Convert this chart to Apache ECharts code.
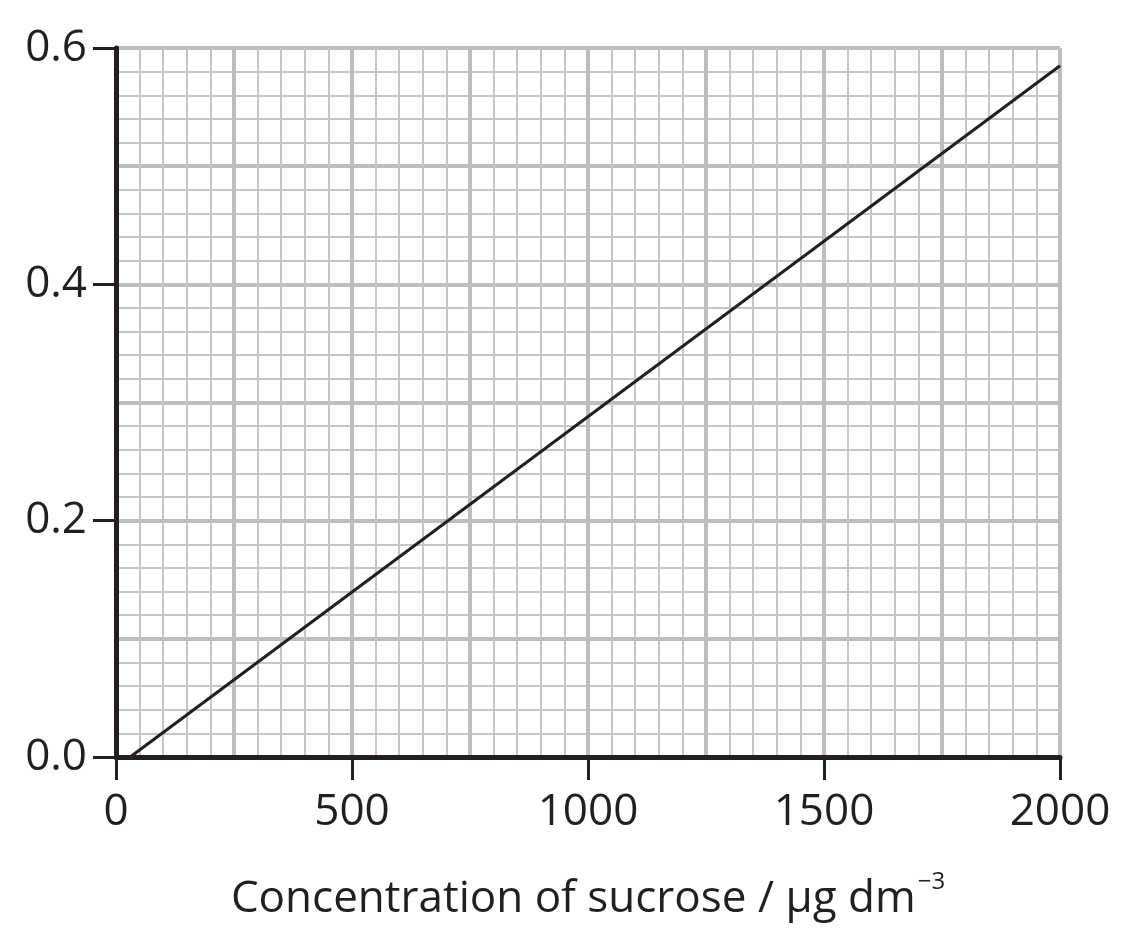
<!DOCTYPE html>
<html>
<head>
<meta charset="utf-8">
<script src="https://cdn.jsdelivr.net/npm/echarts@6/dist/echarts.min.js"></script>
<style>
  html, body { margin: 0; padding: 0; background: #fff; }
  #chart { width: 1131px; height: 938px; }
</style>
</head>
<body>
<div id="chart"></div>
<script>
// calibration line
var lineX = [30, 2000];
var lineY = [0, 0.585];
var xLabelTicks = [0, 500, 1000, 1500, 2000];
var yLabelTicks = [0.0, 0.2, 0.4, 0.6];
var xName = 'Concentration of sucrose / \u03bcg dm';
var xNameSup = '\u22123';

var chart = echarts.init(document.getElementById('chart'));
var ink = '#231f20';
var font = 'Open Sans';

var lineData = lineX.map(function (x, i) { return [x, lineY[i]]; });

var option = {
    animation: false,
    grid: { left: 116, right: 71, top: 48, bottom: 181 },
    xAxis: [
        {   // graph paper, vertical lines
            type: 'value', min: 0, max: 2000, interval: 250,
            axisLine: { show: false }, axisTick: { show: false }, axisLabel: { show: false },
            splitLine: { show: true, lineStyle: { color: '#bebebe', width: 4 } },
            minorTick: { show: false, splitNumber: 5 },
            minorSplitLine: { show: true, lineStyle: { color: '#c6c6c6', width: 2 } }
        },
        {   // labelled axis
            type: 'value', min: 0, max: 2000, interval: 500, z: 5,
            position: 'bottom',
            axisLine: { show: true, onZero: false, lineStyle: { color: ink, width: 5 } },
            axisTick: { show: true, length: 23, lineStyle: { color: ink, width: 3 } },
            axisLabel: { margin: 33, fontSize: 44, fontFamily: font, color: ink,
                formatter: function (v) { return xLabelTicks.indexOf(v) >= 0 ? String(v) : ''; } },
            splitLine: { show: false },
            name: '{a|' + xName + '}{s|' + xNameSup + '}',
            nameLocation: 'middle', nameGap: 113,
            nameTextStyle: {
                rich: {
                    a: { fontSize: 44, fontFamily: font, color: ink },
                    s: { fontSize: 24, fontFamily: font, color: ink, padding: [0, 0, 34, 2] }
                }
            }
        }
    ],
    yAxis: [
        {   // graph paper, horizontal lines
            type: 'value', min: 0, max: 0.6, interval: 0.1,
            axisLine: { show: false }, axisTick: { show: false }, axisLabel: { show: false },
            splitLine: { show: true, lineStyle: { color: '#bebebe', width: 4 } },
            minorTick: { show: false, splitNumber: 5 },
            minorSplitLine: { show: true, lineStyle: { color: '#c6c6c6', width: 2 } }
        },
        {
            type: 'value', min: 0, max: 0.6, interval: 0.2, z: 5,
            position: 'left',
            axisLine: { show: true, onZero: false, lineStyle: { color: ink, width: 5 } },
            axisTick: { show: true, length: 23, lineStyle: { color: ink, width: 3 } },
            axisLabel: { margin: 29, fontSize: 44, fontFamily: font, color: ink,
                formatter: function (v) { return v.toFixed(1); } },
            splitLine: { show: false }
        }
    ],
    series: [
        {
            type: 'line',
            xAxisIndex: 0, yAxisIndex: 0,
            data: lineData,
            symbol: 'none',
            z: 3,
            lineStyle: { color: ink, width: 3 }
        }
    ]
};
option && chart.setOption(option);
</script>
</body>
</html>
